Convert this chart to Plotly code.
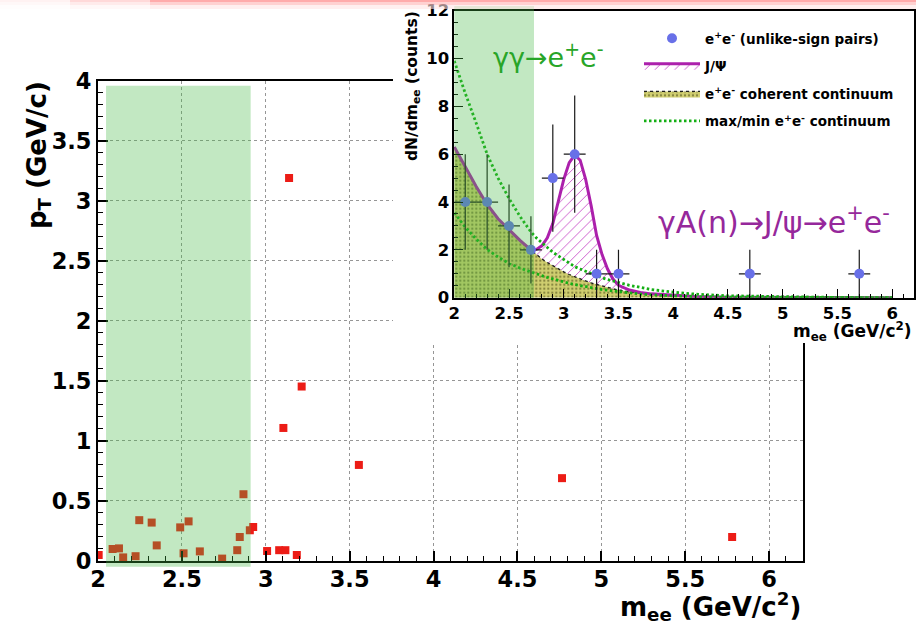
import plotly.graph_objects as go

W, H = 916, 624
FONT = "DejaVu Sans"

# ---------------- main scatter (pT vs m_ee) ----------------
main_mee = [2.004, 2.087, 2.125, 2.15, 2.224, 2.246, 2.32, 2.35, 2.49, 2.51, 2.54, 2.607,
            2.74, 2.83, 2.845, 2.867, 2.905, 2.925, 3.008, 3.08, 3.105, 3.117, 3.139,
            3.185, 3.214, 3.555, 4.766, 5.78]
main_pt = [0.05, 0.10, 0.105, 0.03, 0.04, 0.34, 0.32, 0.13, 0.28, 0.064, 0.33, 0.08,
           0.02, 0.09, 0.20, 0.556, 0.256, 0.283, 0.083, 0.09, 1.108, 0.09, 3.19,
           0.05, 1.453, 0.80, 0.69, 0.20]

# ---------------- inset histogram ----------------
hist_mee = [2.1, 2.3, 2.5, 2.7, 2.9, 3.1, 3.3, 3.5, 4.7, 5.7]
hist_counts = [4, 4, 3, 2, 5, 6, 1, 1, 1, 1]
hist_err = [2.0, 2.0, 1.73, 1.41, 2.24, 2.45, 1.0, 1.0, 1.0, 1.0]
bin_half = [0.1] * len(hist_mee)

curve_mee = [2.0, 2.1, 2.2, 2.3, 2.4, 2.5, 2.6, 2.7, 2.75, 2.8, 2.85, 2.9, 2.95, 3.0,
             3.05, 3.1, 3.15, 3.2, 3.25, 3.3, 3.35, 3.4, 3.45, 3.5, 3.6, 3.7, 3.8,
             4.0, 4.2, 4.5, 5.0, 5.5, 6.0]
continuum = [6.3, 5.45, 4.65, 3.9, 3.3, 2.85, 2.4, 2.0, 1.8, 1.62, 1.47, 1.33, 1.2, 1.08,
             0.97, 0.87, 0.78, 0.70, 0.62, 0.55, 0.48, 0.42, 0.37, 0.32, 0.24, 0.18, 0.13,
             0.07, 0.04, 0.02, 0.01, 0.0, 0.0]
jpsi_total = [6.3, 5.45, 4.65, 3.9, 3.3, 2.85, 2.4, 2.0, 2.02, 2.17, 2.5, 3.1, 4.0, 4.95,
              5.65, 5.97, 5.75, 4.95, 3.85, 2.6, 1.8, 1.2, 0.78, 0.52, 0.32, 0.22, 0.16,
              0.09, 0.05, 0.02, 0.01, 0.0, 0.0]
cont_max = [9.9, 8.55, 7.3, 6.0, 5.0, 4.15, 3.4, 2.75, 2.5, 2.28, 2.1, 1.9, 1.75, 1.6,
            1.45, 1.3, 1.2, 1.1, 1.0, 0.9, 0.83, 0.76, 0.7, 0.63, 0.52, 0.43, 0.34,
            0.23, 0.15, 0.08, 0.03, 0.01, 0.0]
cont_min = [3.55, 2.95, 2.45, 2.02, 1.7, 1.44, 1.24, 1.07, 0.99, 0.92, 0.85, 0.78, 0.72,
            0.66, 0.6, 0.55, 0.5, 0.46, 0.42, 0.38, 0.34, 0.31, 0.28, 0.25, 0.2, 0.15,
            0.12, 0.07, 0.04, 0.02, 0.01, 0.0, 0.0]

# highlighted (gamma gamma) mass windows
main_band = dict(x0=2.048, x1=2.91, y0=-0.047, y1=3.958)
inset_band = dict(x0=2.0, x1=2.728, y0=0.0, y1=12.2)

MAIN_X = [2, 6.2]
MAIN_Y = [0, 4]
INS_X = [2, 6.2]
INS_Y = [0, 12]

# layout geometry in pixels
main_px = dict(l=98, r=802.6, t=80.7, b=561)
cover_px = dict(l=393, r=916, t=0, b=343)
ins_px = dict(l=454.3, r=914, t=10.7, b=297.7)


def xdom(p):
    return [p["l"] / W, p["r"] / W]


def ydom(p):
    return [1 - p["b"] / H, 1 - p["t"] / H]


bold = lambda s, c="black": dict(family=FONT, size=s, color=c, weight="bold")

fig = go.Figure()

# main
fig.add_trace(go.Scatter(x=main_mee, y=main_pt, mode="markers", xaxis="x", yaxis="y",
                         marker=dict(symbol="square", size=8, color="rgb(236,28,22)"),
                         showlegend=False, hoverinfo="skip"))
# cover panel (empty subplot whose background hides the main plot under the inset)
fig.add_trace(go.Scatter(x=[None], y=[None], xaxis="x2", yaxis="y2", showlegend=False,
                         hoverinfo="skip"))
# inset
fig.add_trace(go.Scatter(x=curve_mee, y=continuum, mode="lines", xaxis="x3", yaxis="y3",
                         fill="tozeroy", fillcolor="rgb(208,206,112)",
                         fillpattern=dict(shape=".", fgcolor="rgba(70,70,20,0.55)",
                                          bgcolor="rgb(208,206,112)", size=4, solidity=0.25),
                         line=dict(color="rgb(30,30,30)", width=1.3, dash="dot"),
                         name="e<sup>+</sup>e<sup>-</sup> coherent continuum",
                         legendrank=3, legendgroup="c", hoverinfo="skip"))
fig.add_trace(go.Scatter(x=curve_mee, y=jpsi_total, mode="lines", xaxis="x3", yaxis="y3",
                         fill="tonexty", fillcolor="rgba(255,255,255,0)",
                         fillpattern=dict(shape="/", fgcolor="rgb(205,95,205)",
                                          bgcolor="rgba(255,255,255,0)", size=7, solidity=0.14),
                         line=dict(color="rgb(172,32,172)", width=3),
                         name="J/\u03a8", legendrank=2, legendgroup="j", hoverinfo="skip"))
fig.add_trace(go.Scatter(x=curve_mee, y=cont_max, mode="lines", xaxis="x3", yaxis="y3",
                         line=dict(color="rgb(20,175,20)", width=2.8, dash="2.5px,2.5px"),
                         name="max/min e<sup>+</sup>e<sup>-</sup> continuum",
                         legendrank=4, legendgroup="m", hoverinfo="skip"))
fig.add_trace(go.Scatter(x=curve_mee, y=cont_min, mode="lines", xaxis="x3", yaxis="y3",
                         line=dict(color="rgb(20,175,20)", width=2.8, dash="2.5px,2.5px"),
                         showlegend=False, legendgroup="m", hoverinfo="skip"))
fig.add_trace(go.Scatter(x=hist_mee, y=hist_counts, mode="markers", xaxis="x3", yaxis="y3",
                         marker=dict(symbol="circle", size=10, color="rgb(104,112,232)"),
                         error_x=dict(type="data", array=bin_half, color="rgb(25,25,25)",
                                      thickness=1.2, width=0),
                         error_y=dict(type="data", array=hist_err, color="rgb(25,25,25)",
                                      thickness=1.2, width=0),
                         name="e<sup>+</sup>e<sup>-</sup> (unlike-sign pairs)",
                         legendrank=1, legendgroup="d", hoverinfo="skip"))

axis_common = dict(ticks="inside", tickcolor="black", showline=True, linecolor="black",
                   mirror=True, zeroline=False, automargin=False)

fig.update_layout(
    template="none",
    width=W, height=H, margin=dict(l=0, r=0, t=0, b=0, autoexpand=False),
    paper_bgcolor="white", plot_bgcolor="white",
    xaxis=dict(domain=xdom(main_px), range=MAIN_X, anchor="y", tick0=2, dtick=0.5,
               ticklen=10, tickwidth=1.5, linewidth=2, showgrid=True,
               gridcolor="rgb(150,150,150)", griddash="dot", gridwidth=1,
               minor=dict(dtick=0.1, ticklen=5, tickwidth=1.2, ticks="inside",
                          tickcolor="black", showgrid=False),
               ticklabelstandoff=-3,
               tickfont=bold(22.5), **axis_common),
    yaxis=dict(domain=ydom(main_px), range=MAIN_Y, anchor="x", tick0=0, dtick=0.5,
               ticklen=10, tickwidth=1.5, linewidth=2, showgrid=True,
               gridcolor="rgb(150,150,150)", griddash="dot", gridwidth=1,
               minor=dict(dtick=0.1, ticklen=5, tickwidth=1.2, ticks="inside",
                          tickcolor="black", showgrid=False),
               tickfont=bold(22.5), **axis_common),
    xaxis2=dict(domain=xdom(cover_px), range=[0, 1], anchor="y2", visible=False,
                automargin=False),
    yaxis2=dict(domain=ydom(cover_px), range=[0, 1], anchor="x2", visible=False,
                automargin=False),
    xaxis3=dict(domain=xdom(ins_px), range=INS_X, anchor="y3", tick0=2, dtick=0.5,
                ticklen=9, tickwidth=1.2, linewidth=1.5, showgrid=False,
                minor=dict(dtick=0.1, ticklen=4, tickwidth=1, ticks="inside",
                           tickcolor="black", showgrid=False),
                tickfont=bold(16.5), **axis_common),
    yaxis3=dict(domain=ydom(ins_px), range=INS_Y, anchor="x3", tick0=0, dtick=2,
                ticklen=9, tickwidth=1.2, linewidth=1.5, showgrid=False,
                minor=dict(dtick=0.5, ticklen=4, tickwidth=1, ticks="inside",
                           tickcolor="black", showgrid=False),
                tickfont=bold(16.5), **axis_common),
    legend=dict(x=639 / W, y=1 - 23 / H, xanchor="left", yanchor="top",
                bgcolor="rgba(0,0,0,0)", font=bold(13.5), traceorder="grouped",
                tracegroupgap=7, itemwidth=56),
    showlegend=True,
)

shapes = []
# green gamma-gamma windows (semi-transparent, on top)
mw, mh = MAIN_X[1] - MAIN_X[0], MAIN_Y[1] - MAIN_Y[0]
shapes.append(dict(type="rect", xref="x domain", yref="y domain", layer="above",
                   x0=(main_band["x0"] - MAIN_X[0]) / mw, x1=(main_band["x1"] - MAIN_X[0]) / mw,
                   y0=(main_band["y0"] - MAIN_Y[0]) / mh, y1=(main_band["y1"] - MAIN_Y[0]) / mh,
                   fillcolor="rgb(70,185,70)", opacity=0.33, line=dict(width=0)))
iw, ih = INS_X[1] - INS_X[0], INS_Y[1] - INS_Y[0]
shapes.append(dict(type="rect", xref="x3 domain", yref="y3 domain", layer="above",
                   x0=(inset_band["x0"] - INS_X[0]) / iw, x1=(inset_band["x1"] - INS_X[0]) / iw,
                   y0=(inset_band["y0"] - INS_Y[0]) / ih, y1=(inset_band["y1"] - INS_Y[0]) / ih,
                   fillcolor="rgb(70,185,70)", opacity=0.33, line=dict(width=0)))
# pinkish slide header band at the very top
rows = [(0, 2, "rgb(255,150,150)", 0.8), (2, 5, "rgb(255,190,190)", 0.7),
        (5, 9, "rgb(255,228,228)", 0.6)]
cols = [(0, 70, 0.15), (70, 150, 0.45), (150, W, 1.0)]
for (ya, yb, c, op) in rows:
    for (xa, xb, f) in cols:
        shapes.append(dict(type="rect", xref="paper", yref="paper", layer="above",
                           x0=xa / W, x1=xb / W, y0=1 - yb / H, y1=1 - ya / H,
                           fillcolor=c, opacity=op * f, line=dict(width=0)))
fig.update_layout(shapes=shapes)

ann = [
    dict(text="p<sub>T</sub> (GeV/c)", textangle=-90, x=38 / W, y=1 - 79 / H,
         xanchor="center", yanchor="top", font=bold(26)),
    dict(text="m<sub>ee</sub> (GeV/c<sup>2</sup>)", x=803 / W, y=1 - 606 / H,
         xanchor="right", yanchor="middle", font=bold(26)),
    dict(text="dN/dm<sub>ee</sub> (counts)", textangle=-90, x=413 / W, y=1 - 9 / H,
         xanchor="center", yanchor="top", font=bold(15.5)),
    dict(text="m<sub>ee</sub> (GeV/c<sup>2</sup>)", x=914 / W, y=1 - 331 / H,
         xanchor="right", yanchor="middle", font=bold(17)),
    dict(text="\u03b3\u03b3\u2192e<sup>+</sup>e<sup>-</sup>", x=548 / W, y=1 - 55 / H,
         xanchor="center", yanchor="middle",
         font=dict(family=FONT, size=27, color="rgb(40,165,40)")),
    dict(text="\u03b3A(n)\u2192J/\u03c8\u2192e<sup>+</sup>e<sup>-</sup>", x=774 / W,
         y=1 - 220 / H, xanchor="center", yanchor="middle",
         font=dict(family=FONT, size=30, color="rgb(150,40,155)")),
]
for a in ann:
    a.update(xref="paper", yref="paper", showarrow=False)
fig.update_layout(annotations=ann)

fig.write_html("out.html")
